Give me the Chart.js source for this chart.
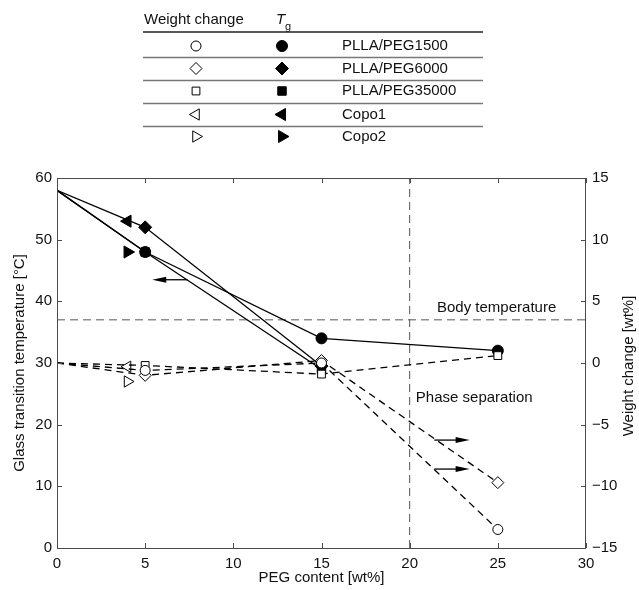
<!DOCTYPE html>
<html>
<head>
<meta charset="utf-8">
<title>Tg and weight change vs PEG content</title>
<script src="https://cdn.jsdelivr.net/npm/chart.js@4.4.0/dist/chart.umd.min.js"></script>
<style>
    html, body { margin: 0; padding: 0; background: #fff; }
</style>
</head>
<body>
<canvas id="tgChart" width="639" height="590"></canvas>
<script>
// PEG content [wt%]
const pegContent = [0, 5, 15, 25];
const copoContent = [4];

// Glass transition temperature [°C]
const tgPeg1500 = [58, 48, 34, 32];
const tgPeg6000 = [58, 52, 29.5];
const tgPeg35000 = [58, 48, 29];
const tgCopo1 = [53];
const tgCopo2 = [48];

// Weight change [wt%]
const wcPeg1500 = [0, -0.6, 0, -13.5];
const wcPeg6000 = [0, -1, 0.2, -9.7];
const wcPeg35000 = [0, -0.2, -0.9, 0.6];
const wcCopo1 = [-0.3];
const wcCopo2 = [-1.5];

const seriesNames = ['PLLA/PEG1500', 'PLLA/PEG6000', 'PLLA/PEG35000', 'Copo1', 'Copo2'];

// reference levels
const bodyTemperature = 37;
const phaseSeparationContent = 20;

// axis ranges and tick steps
const xRange = [0, 30, 5];
const tgRange = [0, 60, 10];
const wcRange = [-15, 15, 5];

const FONT = "'Liberation Sans', Arial, Helvetica, sans-serif";
const INK = '#111';
const AXIS = '#4a4a4a';

function pts(xs, ys) {
    return ys.map((y, i) => ({ x: xs[i], y: y }));
}

// marker per series: circle, diamond, square, left / right triangle
const markers = [
    { style: 'circle', r: 5.5, rot: 0 },
    { style: 'rectRot', r: 6.5, rot: 0 },
    { style: 'rect', r: 6, rot: 0 },
    { style: 'triangle', r: 7, rot: -90 },
    { style: 'triangle', r: 7, rot: 90 }
];

// the pure PLLA point (0 wt% PEG) only anchors the lines, no marker there
function radiusFor(r) {
    return c => (c.raw && c.raw.x === 0 ? 0 : r);
}

function tgSet(i, xs, ys, line) {
    const m = markers[i];
    return {
        label: seriesNames[i] + ' Tg',
        data: pts(xs, ys),
        yAxisID: 'y',
        showLine: line,
        borderColor: '#000',
        borderWidth: 1.3,
        pointStyle: m.style,
        pointRotation: m.rot,
        pointRadius: radiusFor(m.r),
        markerRadius: m.r,
        pointBackgroundColor: '#000',
        pointBorderColor: '#000',
        pointBorderWidth: 1,
        order: 1
    };
}

function wcSet(i, xs, ys, line) {
    const m = markers[i];
    return {
        label: seriesNames[i] + ' weight change',
        data: pts(xs, ys),
        yAxisID: 'y2',
        showLine: line,
        borderColor: '#000',
        borderWidth: 1.3,
        borderDash: [7, 5],
        pointStyle: m.style,
        pointRotation: m.rot,
        pointRadius: radiusFor(m.r - 0.5),
        markerRadius: m.r - 0.5,
        pointBackgroundColor: '#fff',
        pointBorderColor: '#000',
        pointBorderWidth: 1,
        order: 0
    };
}

function refLine(label, data) {
    return {
        label: label,
        data: data,
        yAxisID: 'y',
        showLine: true,
        borderColor: '#555',
        borderWidth: 1,
        borderDash: [8, 5],
        pointRadius: 0,
        order: 5
    };
}

const tgSets = [
    tgSet(0, pegContent, tgPeg1500, true),
    tgSet(1, pegContent, tgPeg6000, true),
    tgSet(2, pegContent, tgPeg35000, true),
    tgSet(3, copoContent, tgCopo1, false),
    tgSet(4, copoContent, tgCopo2, false)
];
const wcSets = [
    wcSet(0, pegContent, wcPeg1500, true),
    wcSet(1, pegContent, wcPeg6000, true),
    wcSet(2, pegContent, wcPeg35000, true),
    wcSet(3, copoContent, wcCopo1, false),
    wcSet(4, copoContent, wcCopo2, false)
];

// annotations in data units (x, Tg axis)
const notes = [
    { text: 'Body temperature', x: 21.55, y: 38.9 },
    { text: 'Phase separation', x: 20.35, y: 24.3 }
];
const arrows = [
    { from: [7.4, 43.5], to: [5.4, 43.5] },
    { from: [21.4, 17.5], to: [23.4, 17.5] },
    { from: [21.4, 12.8], to: [23.4, 12.8] }
];

// box with inward ticks, like the usual plotting-software frame
const framePlugin = {
    id: 'frame',
    afterDatasetsDraw(chart) {
        const { ctx, chartArea: a, scales } = chart;
        ctx.save();
        ctx.strokeStyle = AXIS;
        ctx.lineWidth = 1;
        ctx.setLineDash([]);
        ctx.strokeRect(a.left + 0.5, a.top + 0.5, a.right - a.left - 1, a.bottom - a.top);
        ctx.beginPath();
        scales.x.ticks.forEach(t => {
            const px = Math.round(scales.x.getPixelForValue(t.value)) + 0.5;
            ctx.moveTo(px, a.bottom); ctx.lineTo(px, a.bottom - 5);
            ctx.moveTo(px, a.top); ctx.lineTo(px, a.top + 5);
        });
        scales.y.ticks.forEach(t => {
            const py = Math.round(scales.y.getPixelForValue(t.value)) + 0.5;
            ctx.moveTo(a.left, py); ctx.lineTo(a.left + 5, py);
        });
        scales.y2.ticks.forEach(t => {
            const py = Math.round(scales.y2.getPixelForValue(t.value)) + 0.5;
            ctx.moveTo(a.right, py); ctx.lineTo(a.right - 5, py);
        });
        ctx.stroke();
        ctx.restore();
    }
};

// text labels, arrows, right axis title and the marker table on top
const extrasPlugin = {
    id: 'extras',
    afterDraw(chart) {
        const { ctx, chartArea: a, scales } = chart;
        const sx = scales.x, sy = scales.y;
        ctx.save();
        ctx.fillStyle = INK;
        ctx.font = '15px ' + FONT;
        ctx.textBaseline = 'middle';
        ctx.textAlign = 'left';
        notes.forEach(n => {
            ctx.fillText(n.text, sx.getPixelForValue(n.x), sy.getPixelForValue(n.y));
        });

        // arrows pointing at the axis each group belongs to
        ctx.strokeStyle = '#000';
        ctx.fillStyle = '#000';
        ctx.lineWidth = 1.3;
        arrows.forEach(ar => {
            const x0 = sx.getPixelForValue(ar.from[0]);
            const x1 = sx.getPixelForValue(ar.to[0]);
            const y0 = sy.getPixelForValue(ar.from[1]);
            const dir = Math.sign(x1 - x0);
            ctx.beginPath();
            ctx.moveTo(x0, y0);
            ctx.lineTo(x1 - dir * 10, y0);
            ctx.stroke();
            ctx.beginPath();
            ctx.moveTo(x1, y0);
            ctx.lineTo(x1 - dir * 14, y0 - 3);
            ctx.lineTo(x1 - dir * 14, y0 + 3);
            ctx.closePath();
            ctx.fill();
        });

        // right axis title, reading bottom to top
        ctx.fillStyle = INK;
        ctx.save();
        ctx.translate(629, (a.top + a.bottom) / 2 + 3);
        ctx.rotate(-Math.PI / 2);
        ctx.textAlign = 'center';
        ctx.fillText('Weight change [wt%]', 0, 0);
        ctx.restore();

        // marker table
        const left = 143, right = 483;
        const colOpen = 196, colFilled = 282, colName = 342;
        const rowY = [46, 68.5, 91, 114.5, 136.5];
        ctx.textAlign = 'left';
        ctx.fillText('Weight change', 144, 20);
        ctx.font = 'italic 15px ' + FONT;
        ctx.fillText('T', 276, 20);
        ctx.font = '11px ' + FONT;
        ctx.fillText('g', 285, 27);

        ctx.strokeStyle = '#222';
        ctx.lineWidth = 1.6;
        ctx.beginPath();
        ctx.moveTo(left, 32); ctx.lineTo(right, 32);
        ctx.stroke();
        ctx.strokeStyle = '#777';
        ctx.lineWidth = 1.3;
        ctx.beginPath();
        for (let i = 0; i < rowY.length - 1; i++) {
            const ly = Math.round((rowY[i] + rowY[i + 1]) / 2) + 0.5;
            ctx.moveTo(left, ly); ctx.lineTo(right, ly);
        }
        ctx.stroke();

        ctx.font = '15px ' + FONT;
        seriesNames.forEach((name, i) => {
            const o = wcSets[i], f = tgSets[i];
            ctx.strokeStyle = '#000';
            ctx.lineWidth = 1;
            ctx.fillStyle = '#fff';
            Chart.helpers.drawPoint(ctx, {
                pointStyle: o.pointStyle, radius: o.markerRadius,
                rotation: o.pointRotation, borderWidth: 1
            }, colOpen, rowY[i]);
            ctx.fillStyle = '#000';
            Chart.helpers.drawPoint(ctx, {
                pointStyle: f.pointStyle, radius: f.markerRadius,
                rotation: f.pointRotation, borderWidth: 1
            }, colFilled, rowY[i]);
            ctx.fillStyle = INK;
            ctx.fillText(name, colName, rowY[i]);
        });
        ctx.restore();
    }
};

Chart.defaults.font.family = FONT;
Chart.defaults.font.size = 15;
Chart.defaults.color = INK;

const ctx = document.getElementById('tgChart').getContext('2d');
const tgChart = new Chart(ctx, {
    type: 'scatter',
    data: {
        datasets: [
            ...tgSets,
            ...wcSets,
            refLine('Body temperature', [{ x: xRange[0], y: bodyTemperature }, { x: xRange[1], y: bodyTemperature }]),
            refLine('Phase separation', [{ x: phaseSeparationContent, y: tgRange[0] }, { x: phaseSeparationContent, y: tgRange[1] }])
        ]
    },
    plugins: [framePlugin, extrasPlugin],
    options: {
        responsive: false,
        animation: false,
        layout: { padding: { top: 178, left: 0, right: 0, bottom: 0 } },
        plugins: {
            legend: { display: false },
            tooltip: { enabled: false }
        },
        scales: {
            x: {
                type: 'linear',
                min: xRange[0], max: xRange[1],
                ticks: { stepSize: xRange[2], padding: 7, color: INK },
                grid: { drawOnChartArea: false, drawTicks: false },
                border: { display: false },
                title: { display: true, text: 'PEG content [wt%]', color: INK, padding: { top: 0, bottom: 3 } },
                afterFit(scale) { scale.height = 42; }
            },
            y: {
                type: 'linear',
                position: 'left',
                min: tgRange[0], max: tgRange[1],
                ticks: { stepSize: tgRange[2], padding: 5, color: INK },
                grid: { drawOnChartArea: false, drawTicks: false },
                border: { display: false },
                title: { display: true, text: 'Glass transition temperature [°C]', color: INK, padding: { top: 11, bottom: 0 } },
                afterFit(scale) { scale.width = 57; }
            },
            y2: {
                type: 'linear',
                position: 'right',
                min: wcRange[0], max: wcRange[1],
                ticks: {
                    stepSize: wcRange[2], padding: 6, color: INK,
                    callback: v => String(v).replace('-', '\u2212')
                },
                grid: { drawOnChartArea: false, drawTicks: false },
                border: { display: false },
                afterFit(scale) { scale.width = 53; }
            }
        }
    }
});
</script>
</body>
</html>
